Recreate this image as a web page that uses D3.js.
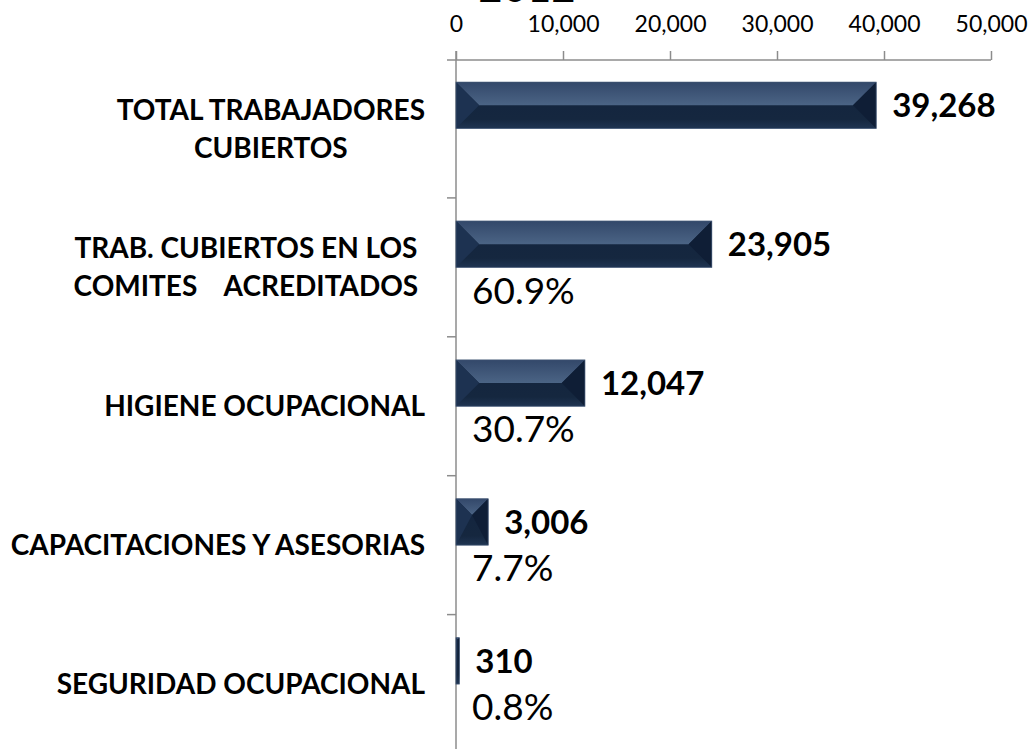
<!DOCTYPE html>
<html>
<head>
<meta charset="utf-8">
<script src="https://cdn.jsdelivr.net/npm/d3@7"></script>
<style>
	body { margin: 0; background: #fff; }
	svg { display: block; font-family: Lato, "Open Sans", sans-serif; }
	.label { white-space: pre; }
</style>
</head>
<body>
<svg class="chart"></svg>
<script>

// Data
var titulo = "2012";
var categorias = [
	"TOTAL TRABAJADORES CUBIERTOS",
	"TRAB. CUBIERTOS EN LOS COMITES ACREDITADOS",
	"HIGIENE OCUPACIONAL",
	"CAPACITACIONES Y ASESORIAS",
	"SEGURIDAD OCUPACIONAL"
];
var etiquetas = [
	["TOTAL TRABAJADORES", "CUBIERTOS"],
	["TRAB. CUBIERTOS EN LOS ", "COMITES    ACREDITADOS "],
	["HIGIENE OCUPACIONAL"],
	["CAPACITACIONES Y ASESORIAS"],
	["SEGURIDAD OCUPACIONAL"]
];
var valores = [39268, 23905, 12047, 3006, 310];
var porcentajes = [null, "60.9%", "30.7%", "7.7%", "0.8%"];
var ticks = [0, 10000, 20000, 30000, 40000, 50000];

var svgWidth = 1034,
	svgHeight = 749;

var chart = d3.select( ".chart" )
	.attr( "width", svgWidth )
	.attr( "height", svgHeight );

var plotLeft = 456,
	plotRight = 991,
	plotTop = 59,
	plotBottom = 753.5;

var x = d3.scaleLinear()
	.domain( [0, 50000] )
	.range( [plotLeft, plotRight] );

var y = d3.scaleBand()
	.domain( categorias )
	.range( [plotTop, plotBottom] );

// two slots per category: the bar and the (empty) percentage series
var inner = d3.scaleBand()
	.domain( ["valor", "pct"] )
	.range( [0, y.bandwidth()] )
	.paddingOuter( 0.5 );

var axisColor = "#8c8c8c";

// gradients for the bevelled bars
var defs = chart.append( "defs" );
var gTop = defs.append( "linearGradient" ).attr( "id", "bevelTop" )
	.attr( "x1", 0 ).attr( "y1", 0 ).attr( "x2", 0 ).attr( "y2", 1 );
gTop.append( "stop" ).attr( "offset", "0%" ).attr( "stop-color", "#33486a" );
gTop.append( "stop" ).attr( "offset", "100%" ).attr( "stop-color", "#4b6485" );

var gBase = defs.append( "linearGradient" ).attr( "id", "bevelBase" )
	.attr( "x1", 0 ).attr( "y1", 0 ).attr( "x2", 0 ).attr( "y2", 1 );
gBase.append( "stop" ).attr( "offset", "0%" ).attr( "stop-color", "#13243f" );
gBase.append( "stop" ).attr( "offset", "80%" ).attr( "stop-color", "#15273f" );
gBase.append( "stop" ).attr( "offset", "100%" ).attr( "stop-color", "#1f3452" );

// title, mostly cut off by the top edge
chart.append( "text" )
	.attr( "x", 527 )
	.attr( "y", 2 )
	.attr( "text-anchor", "middle" )
	.style( "font-size", "42px" )
	.attr( "fill", "#000" )
	.text( titulo );

// top value axis
var xAxis = chart.append( "g" )
	.attr( "transform", "translate(0," + 60 + ")" )
	.call( d3.axisTop( x )
		.tickValues( ticks )
		.tickFormat( d3.format( "," ) )
		.tickSizeInner( 9 )
		.tickSizeOuter( 0 )
		.tickPadding( 19 ) );

xAxis.select( ".domain" ).remove();
xAxis.selectAll( "line" ).attr( "stroke", axisColor ).attr( "stroke-width", 1.5 );
xAxis.selectAll( "text" )
	.attr( "fill", "#000" )
	.style( "font-size", "23px" )
	.style( "font-family", "Lato, sans-serif" );

chart.append( "line" )
	.attr( "x1", plotLeft - 9 )
	.attr( "x2", plotRight )
	.attr( "y1", 60 )
	.attr( "y2", 60 )
	.attr( "stroke", axisColor )
	.attr( "stroke-width", 1.5 );

// category axis: vertical line plus ticks between categories
chart.append( "line" )
	.attr( "x1", plotLeft )
	.attr( "x2", plotLeft )
	.attr( "y1", 51 )
	.attr( "y2", svgHeight )
	.attr( "stroke", axisColor )
	.attr( "stroke-width", 1.5 );

chart.selectAll( ".catTick" )
	.data( categorias.slice( 1 ) )
	.enter()
	.append( "line" )
	.classed( "catTick", true )
	.attr( "x1", plotLeft - 9 )
	.attr( "x2", plotLeft )
	.attr( "y1", function(d) { return y(d); } )
	.attr( "y2", function(d) { return y(d); } )
	.attr( "stroke", axisColor )
	.attr( "stroke-width", 1.5 );

// bars
var bars = chart.selectAll( ".bar" )
	.data( valores )
	.enter()
	.append( "g" )
	.classed( "bar", true )
	.attr( "transform", function(d, i) {
		return "translate(" + x(0) + "," + ( y(categorias[i]) + inner("valor") ) + ")";
	} );

bars.each( function(d) {
	var g = d3.select( this ),
		w = x(d) - x(0),
		h = inner.bandwidth(),
		b = Math.min( h / 2, w / 2 );

	g.append( "rect" )
		.attr( "width", w )
		.attr( "height", h )
		.attr( "fill", "url(#bevelBase)" );

	g.append( "polygon" )
		.attr( "points", [[0,0],[w,0],[w-b,b],[b,b]].join( " " ) )
		.attr( "fill", "url(#bevelTop)" );

	g.append( "polygon" )
		.attr( "points", [[0,0],[b,b],[0,h]].join( " " ) )
		.attr( "fill", "#1d3251" );

	g.append( "polygon" )
		.attr( "points", [[w,0],[w-b,b],[w,h]].join( " " ) )
		.attr( "fill", "#0f1e36" );

	g.append( "rect" )
		.attr( "width", w )
		.attr( "height", h )
		.attr( "fill", "none" )
		.attr( "stroke", "#3f5473" )
		.attr( "stroke-width", 0.8 );
} );

// value labels
chart.selectAll( ".valor" )
	.data( valores )
	.enter()
	.append( "text" )
	.classed( "valor", true )
	.attr( "x", function(d) { return x(d) + 16; } )
	.attr( "y", function(d, i) {
		return y(categorias[i]) + inner("valor") + inner.bandwidth() / 2 + 12;
	} )
	.style( "font-size", "33px" )
	.style( "font-weight", "bold" )
	.attr( "fill", "#000" )
	.text( function(d) { return d3.format( "," )(d); } );

// percentage labels
chart.selectAll( ".pct" )
	.data( porcentajes )
	.enter()
	.filter( function(d) { return d !== null; } )
	.append( "text" )
	.classed( "pct", true )
	.attr( "x", x(0) + 16 )
	.attr( "y", function(d) {
		var i = porcentajes.indexOf( d );
		return y(categorias[i]) + inner("pct") + inner.bandwidth() / 2 + 13;
	} )
	.style( "font-size", "37px" )
	.attr( "fill", "#000" )
	.text( function(d) { return d; } );

// category labels, centred lines in a block right-aligned to the axis
var fontCat = 28,
	lineGap = 38,
	labelRight = plotLeft - 31;

etiquetas.forEach( function( lines, i ) {
	var cy = y(categorias[i]) + y.bandwidth() / 2;
	var t = chart.append( "text" )
		.classed( "label", true )
		.style( "font-size", fontCat + "px" )
		.style( "font-weight", "bold" )
		.attr( "fill", "#000" );

	var spans = lines.map( function( line, k ) {
		return t.append( "tspan" )
			.attr( "y", cy + ( k - ( lines.length - 1 ) / 2 ) * lineGap + fontCat * 0.36 )
			.text( line );
	} );

	var widest = d3.max( spans, function(s) { return s.node().getComputedTextLength(); } );
	var cx = labelRight - widest / 2;
	spans.forEach( function(s) {
		s.attr( "x", cx ).attr( "text-anchor", "middle" );
	} );
} );

</script>
</body>
</html>
